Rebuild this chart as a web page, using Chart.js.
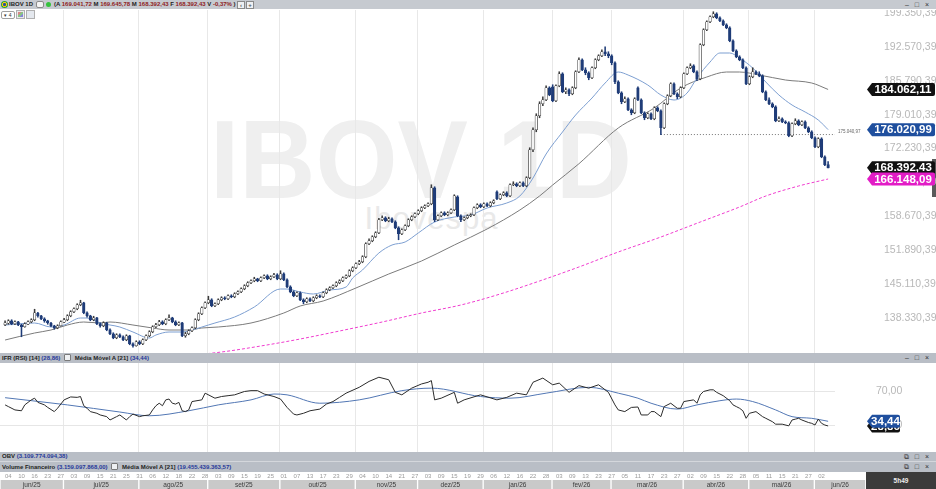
<!DOCTYPE html>
<html lang="pt-BR"><head><meta charset="utf-8"><title>IBOV 1D</title>
<script src="https://cdn.jsdelivr.net/npm/chart.js@4.4.1/dist/chart.umd.min.js"></script>
<style>
html,body{margin:0;padding:0;}
body{width:936px;height:489px;position:relative;overflow:hidden;background:#fff;font-family:"Liberation Sans",Arial,sans-serif;}
.hbar{position:absolute;left:0;width:936px;height:10px;background:#b9bec6;font-size:6px;font-weight:bold;color:#1e1e1e;line-height:10px;white-space:nowrap;}
.hbar .t{position:absolute;left:2px;top:0;}
.v{color:#26399a;}
.r{color:#8e1c1c;}
.ctl{position:absolute;right:5px;top:0;font-size:7px;font-weight:normal;color:#333;letter-spacing:2px;}
.ico{display:inline-block;width:5px;height:5px;border:1px solid #7a7a7a;background:#eef0f2;vertical-align:-1px;margin:0 2px;border-radius:1px;}
canvas{position:absolute;left:0;}
.wm1{position:absolute;left:0;width:842px;top:105px;text-align:center;font-weight:bold;font-size:111px;line-height:111px;color:#efefef;transform:scaleX(0.95);white-space:nowrap;}
.wm2{position:absolute;left:0;width:863px;top:203px;text-align:center;font-size:31px;line-height:31px;letter-spacing:1px;color:#e9e9e9;white-space:nowrap;}
</style></head><body>

<div class="wm1">IBOV 1D</div>
<div class="wm2">Ibovespa</div>
<div style="position:absolute;left:932px;top:159px;width:4px;height:38px;background:#5a5a5a;"></div>

<!-- top header -->
<div class="hbar" style="top:0;height:9px;line-height:9px;background:#c6cad0;">
  <span style="position:absolute;left:1px;top:1px;width:7px;height:7px;border-radius:50%;background:radial-gradient(circle,#2a4fa0 0 28%,#f2cf00 30% 52%,#2a9d3a 55%);"></span>
  <span style="position:absolute;left:9px;">IBOV 1D</span>
  <span style="position:absolute;left:36px;top:1px;width:6px;height:5px;border:1px solid #8a8a8a;border-radius:2px;background:#f4f4f4;"></span>
  <span style="position:absolute;left:46px;top:2px;width:5px;height:5px;border-radius:50%;background:#35c23d;"></span>
  <span style="position:absolute;left:54px;">(A <span class="r">169.041,72</span> M <span class="r">169.645,78</span> M <span class="r">168.392,43</span> F <span class="r">168.392,43</span> V <span class="r">-0,37%</span> )</span>
  <span style="position:absolute;left:237px;top:1px;width:6px;height:6px;border:1px solid #8a8a8a;background:#eef0f2;font-size:6px;line-height:6px;text-align:center;color:#555;">&#8249;</span>
  <span style="position:absolute;left:246px;top:1px;width:6px;height:6px;border:1px solid #8a8a8a;background:#eef0f2;font-size:6px;line-height:6px;text-align:center;color:#555;">+</span>
  <span class="ctl">&#8211; &#9633; &#215;</span>
</div>
<div style="position:absolute;left:1px;top:11px;width:12px;height:6px;border:1px solid #a0a0a0;border-radius:2px;font-size:5px;line-height:6px;text-align:center;color:#333;background:#fff;">&#9662; 4</div>
<div style="position:absolute;left:16px;top:10px;width:7px;height:7px;border:1px solid #b0b0b0;background:#eaeaea;"><div style="margin:1px;width:5px;height:5px;background:linear-gradient(135deg,#c44 0 40%,#4a4 40% 70%,#44c 70%);opacity:.6"></div></div>
<div style="position:absolute;left:26px;top:10px;width:7px;height:7px;border:1px solid #b0b0b0;background:#e4e8ee;"></div>

<canvas id="main" width="936" height="343" style="top:10px;"></canvas>

<div class="hbar" style="top:353px;">
  <span class="t">IFR (RSI) [14] <span class="v">(28,86)</span> <span class="ico"></span> Média Móvel A [21] <span class="v">(34,44)</span></span>
  <span class="ctl">&#8211; &#9633; &#215;</span>
</div>

<canvas id="rsi" width="936" height="89" style="top:363px;"></canvas>

<div class="hbar" style="top:452px;border-bottom:1px solid #d4d7dc;height:9px;line-height:9px;">
  <span class="t">OBV <span class="v">(3.109.774.094,38)</span></span>
  <span class="ctl">&#10697; &#9633; &#215;</span>
</div>
<div class="hbar" style="top:462px;">
  <span class="t">Volume Financeiro <span class="v">(3.159.097.868,00)</span> <span class="ico"></span> Média Móvel A [21] <span class="v">(19.455.439.363,57)</span></span>
  <span class="ctl">&#10697; &#9633; &#215;</span>
</div>

<canvas id="axis" width="866" height="17" style="top:472px;"></canvas>
<div style="position:absolute;left:866px;top:472px;width:70px;height:17px;background:#3b3b3b;color:#eee;font-size:6.5px;line-height:17px;text-align:center;font-weight:bold;">5h49</div>

<script>
// ---------------- DATA ----------------
// daily candles (values in thousands of points), 02/jun/2025 .. 03/jun/2026
const opens = [
137.0,137.3,137.8,137.2,137.6,137.0,136.6,137.1,137.6,138.0,139.3,138.8,138.2,137.8,137.3,136.8,136.4,136.8,137.5,138.0,
138.8,139.6,140.2,141.0,141.4,139.4,138.8,138.0,138.4,137.2,136.8,137.4,136.0,135.2,134.4,135.0,134.6,134.0,134.8,133.2,132.8,133.6,133.2,
134.0,134.8,135.6,136.6,137.0,137.6,137.2,138.0,138.4,137.6,137.0,137.4,134.8,135.2,135.8,136.4,138.0,139.2,140.4,141.4,142.0,
140.8,141.2,142.0,142.4,142.2,142.8,142.6,143.2,143.6,144.2,144.8,145.4,145.8,146.2,145.8,146.4,146.8,146.2,146.6,147.0,146.2,147.2,
146.0,144.6,143.6,142.8,143.4,142.0,141.6,142.2,141.8,142.4,142.8,142.6,143.4,144.0,144.4,144.8,145.4,145.8,146.4,146.8,147.8,148.4,149.2,
149.6,150.6,153.2,153.8,154.6,155.4,158.0,158.4,157.8,158.2,157.6,156.4,155.2,156.0,156.8,158.0,158.6,159.2,159.8,
160.4,160.8,161.2,164.4,158.0,158.8,159.4,159.0,159.4,160.0,162.6,158.8,158.0,158.4,158.8,159.0,160.4,161.0,160.6,161.2,
160.8,161.4,163.6,162.2,163.0,163.4,162.8,165.0,165.2,164.8,165.4,164.8,166.4,172.0,176.0,178.8,181.2,182.0,184.4,184.6,181.8,
184.8,187.2,183.6,184.0,183.2,184.4,187.6,190.0,188.0,187.4,186.4,188.4,190.0,190.8,191.6,191.2,190.8,189.4,
185.6,183.4,181.6,182.2,180.0,179.4,184.4,182.0,179.4,178.4,179.2,178.2,180.4,179.8,176.4,181.2,182.8,185.2,183.2,182.6,184.4,187.2,
188.4,188.8,187.6,186.2,193.0,196.0,197.6,198.6,199.2,198.4,197.8,197.0,196.4,193.8,191.8,190.6,190.0,188.4,185.2,186.6,
187.6,187.2,186.8,183.6,182.0,181.2,180.6,177.8,178.2,177.6,177.4,174.8,177.2,177.8,177.0,177.6,176.4,175.6,174.4,172.6,
174.2,170.6,169.04];
const highs = [
137.8,138.0,138.0,137.8,137.7,137.1,137.4,137.8,138.2,140.1,139.5,138.9,138.4,137.9,137.5,136.9,137.0,137.8,138.3,139.0,
139.8,140.4,141.2,141.9,141.5,139.6,138.9,138.7,138.5,137.4,137.6,137.5,136.2,135.4,135.2,135.2,134.8,135.0,134.9,133.4,133.8,133.8,134.2,
135.0,135.8,136.8,137.3,137.9,137.8,138.2,139.0,138.5,137.8,137.6,137.5,135.5,136.0,136.6,138.2,139.4,140.6,141.6,142.7,142.2,
141.4,142.2,142.6,142.6,143.0,143.0,143.4,143.8,144.4,145.0,145.6,146.0,146.5,146.3,146.6,147.0,147.0,146.8,147.3,147.2,147.8,147.4,
146.2,144.8,143.8,143.6,143.6,142.2,142.4,142.4,142.6,143.0,143.0,143.6,144.2,144.6,145.0,145.6,146.0,146.6,147.0,148.0,148.6,149.4,149.9,
150.8,153.4,154.2,154.8,155.6,158.3,158.8,158.6,158.5,158.4,157.8,156.6,156.2,157.0,158.2,158.8,159.4,160.0,160.6,
161.0,161.4,165.0,164.6,159.0,159.6,159.6,159.6,160.2,163.0,162.8,159.0,158.6,159.0,159.2,160.6,161.2,161.2,161.4,161.4,
161.6,162.0,163.8,163.2,163.6,163.6,165.2,165.6,165.4,165.6,165.6,166.6,172.4,176.4,179.2,181.6,182.6,184.8,184.6,185.0,185.0,
187.6,187.4,184.4,184.2,184.6,187.8,190.4,190.2,188.4,187.6,188.6,190.2,191.0,192.0,192.6,191.6,191.0,189.6,
185.8,183.6,182.6,182.4,180.2,182.4,184.6,182.2,179.6,179.4,179.4,180.6,180.6,180.0,181.4,183.0,185.4,185.4,183.4,184.6,187.4,188.6,
189.2,189.0,187.8,193.2,196.2,197.8,198.8,199.6,199.4,198.6,198.0,197.2,196.6,194.0,192.0,190.8,190.2,188.6,186.8,188.4,
187.8,187.6,187.0,183.8,182.4,181.4,180.8,178.6,178.4,177.8,177.6,177.4,178.2,178.0,177.8,177.8,176.6,175.8,174.6,174.4,
174.4,170.8,169.65];
const lows = [
136.8,137.1,137.0,137.0,136.8,134.6,136.5,137.0,137.4,137.8,138.5,138.0,137.5,137.1,136.6,136.1,136.2,136.7,137.4,137.8,
138.6,139.4,140.0,140.8,139.2,138.5,137.8,137.8,137.0,136.5,136.6,135.8,135.0,134.2,134.2,134.4,133.8,133.8,133.0,132.5,132.7,133.0,133.0,
133.8,134.6,135.4,136.4,136.8,137.0,137.0,137.8,137.4,136.8,136.8,134.6,134.5,135.0,135.6,136.2,137.8,139.0,140.2,141.2,140.6,
140.6,141.0,141.8,142.0,142.0,142.4,142.4,143.0,143.4,144.0,144.6,145.2,145.6,145.6,145.6,146.2,146.0,146.0,146.4,146.0,146.0,145.8,
144.4,143.4,142.6,142.6,141.8,141.2,141.4,141.6,141.6,142.2,142.4,142.4,143.2,143.8,144.2,144.6,145.2,145.6,146.2,146.6,147.6,148.2,149.0,
149.4,150.4,153.0,153.6,154.4,155.2,157.8,157.6,157.6,157.4,156.2,154.0,155.0,155.8,156.6,157.8,158.4,159.0,159.6,
160.2,160.6,161.0,157.6,157.8,158.6,158.8,158.8,159.2,159.8,158.6,157.6,157.8,158.2,158.6,158.8,160.2,160.4,160.4,160.6,
160.6,161.2,162.0,162.0,162.8,162.6,162.6,164.8,164.6,164.6,164.6,164.6,166.2,171.6,175.6,178.4,180.8,181.8,182.8,181.6,181.6,
184.6,183.4,183.2,182.8,183.0,184.2,187.4,187.8,187.0,186.0,186.2,188.2,189.8,190.6,190.8,190.4,189.0,185.2,
183.2,181.2,181.4,179.8,179.0,179.2,181.8,179.2,178.0,178.2,178.0,178.0,179.6,175.04,176.2,181.0,182.6,183.0,182.2,182.4,184.2,187.0,
188.2,187.4,185.8,186.0,192.8,195.8,197.4,198.4,198.2,197.6,196.8,196.2,193.6,191.6,190.4,189.8,188.2,185.0,185.0,186.4,
187.0,186.6,183.4,181.8,181.0,180.4,177.6,177.6,177.4,177.2,174.6,174.6,177.0,176.8,176.8,176.2,175.4,174.2,172.4,172.4,
170.4,168.8,168.39];
const closes = [
137.4,137.8,137.2,137.6,137.0,136.6,137.2,137.6,138.0,139.4,138.8,138.2,137.8,137.4,136.8,136.4,136.8,137.6,138.0,138.8,
139.6,140.2,141.0,141.4,139.4,138.8,138.0,138.4,137.2,136.8,137.4,136.0,135.2,134.4,135.0,134.6,134.0,134.8,133.2,132.8,133.6,133.2,134.0,
134.8,135.6,136.6,137.0,137.6,137.2,138.0,138.4,137.6,137.0,137.4,134.8,135.2,135.8,136.4,138.0,139.2,140.4,141.4,142.0,140.8,
141.2,142.0,142.4,142.2,142.8,142.6,143.2,143.6,144.2,144.8,145.4,145.8,146.2,145.8,146.4,146.8,146.2,146.6,147.0,146.2,147.2,146.0,
144.6,143.6,142.8,143.4,142.0,141.6,142.2,141.8,142.4,142.8,142.6,143.4,144.0,144.4,144.8,145.4,145.8,146.4,146.8,147.8,148.4,149.2,149.6,
150.6,153.2,153.8,154.6,155.4,158.0,158.4,157.8,158.2,157.6,156.4,155.2,156.0,156.8,158.0,158.6,159.2,159.8,160.4,
160.8,161.2,164.4,158.0,158.8,159.4,159.0,159.4,160.0,162.8,158.8,158.0,158.4,158.8,159.0,160.4,161.0,160.6,161.2,160.8,
161.4,161.8,162.2,163.0,163.4,162.8,165.0,165.2,164.8,165.4,164.8,166.4,172.0,176.0,178.8,181.2,182.0,184.4,183.0,181.8,184.8,
187.2,183.6,184.0,183.2,184.4,187.6,190.0,188.0,187.4,186.4,188.4,190.0,190.8,191.6,191.2,190.8,189.4,185.6,
183.4,181.6,182.2,180.0,179.4,182.2,182.0,179.4,178.4,179.2,178.2,180.4,179.8,176.4,181.2,182.8,185.2,183.2,182.6,184.4,187.2,188.4,
188.8,187.6,186.2,193.0,196.0,197.6,198.6,199.2,198.4,197.8,197.0,196.4,193.8,191.8,190.6,190.0,188.4,185.2,186.6,187.6,
187.2,186.8,183.6,182.0,181.2,180.6,177.8,178.2,177.6,177.4,174.8,177.2,177.8,177.0,177.6,176.4,175.6,174.4,172.6,174.2,
170.6,169.02,168.39];

// moving averages (candle index, value in thousands)
const maFastIdx = [0,9,14,18,23,25,29,35,39,44,46,50,54,58,62,64,70,76,84,86,90,94,99,104,106,109,114,118,122,126,131,137,142,147,153,157,161,165,170,174,179,183,187,190,196,200,204,208,211,215,218,221,224,228,232,236,240,244,248,251];
const maFastVal = [136.95,137.35,136.55,136.95,138.35,138.35,137.35,136.55,135.55,134.35,134.95,135.55,135.55,136.15,136.95,137.35,138.55,140.55,144.15,144.15,143.55,143.15,143.95,144.55,146.35,147.95,151.35,152.95,153.55,155.35,157.55,158.55,158.95,160.35,161.35,162.75,166.35,171.15,175.55,178.95,182.35,185.35,187.55,186.95,184.95,182.95,181.95,183.35,186.35,189.55,191.35,191.35,190.35,188.35,185.55,182.95,180.95,179.55,177.95,176.02];
const maSlowIdx = [0,9,14,19,24,29,32,39,45,50,56,60,65,75,85,90,97,107,117,127,137,147,157,163,167,175,187,198,206,214,220,224,230,238,246,251];
const maSlowVal = [133.95,135.35,135.95,136.95,137.55,137.35,137.55,136.95,136.35,135.95,135.95,136.35,136.55,137.35,139.35,140.75,141.75,144.35,147.15,149.75,152.95,156.15,159.95,162.75,164.95,169.2,176.35,180.35,184.35,186.55,187.55,187.55,186.95,185.95,185.35,184.06];
const maLongIdx = [48,66,78,90,102,115,127,139,151,163,175,187,200,212,224,232,242,251];
const maLongVal = [130.35,131.55,132.75,134.15,135.75,137.55,139.35,140.95,143.15,145.75,148.55,151.55,154.55,157.55,160.55,162.75,164.75,166.15];

// price axis ticks (thousands) and tags (points)
const yTicks = [138.33039,145.11039,151.89039,158.67039,165.45039,172.23039,179.01039,185.79039,192.57039,199.35039];
const tagValues = [184062.11,176020.99,168392.43,166148.09];
const tagColors = ['#111111','#1f4f9e','#111111','#e21cc6'];
const levelStartIdx = 200;
const levelValue = 175040.97;

// RSI (14) and its 21 average
const rsiIdx = [0,1,3,5,6,8,9,10,12,13,15,16,18,20,22,23,24,25,26,28,29,31,32,34,35,37,38,39,41,42,44,45,46,47,48,49,50,51,52,53,54,55,56,57,60,61,64,66,68,70,73,75,77,79,82,84,86,88,89,91,93,96,98,100,102,104,108,111,114,117,119,121,124,127,129,130,131,133,137,138,140,145,150,153,156,159,161,164,167,169,172,175,178,181,184,186,187,189,191,193,194,196,197,198,200,201,203,205,206,207,210,211,212,213,215,216,217,219,221,222,223,224,225,226,227,229,231,232,234,235,237,239,240,241,242,243,245,246,247,248,249,250,251];
const rsiVal = [54,52,48,47,54,60,62,57,54,51,46,50,60,63.5,63,64,53,50,46,44,42,40,36,40,42,36,40,43,40,41,42,48,53,56,53,60,61,56,55,57,47,46,48,58,60,68,62,64,65,66,70,71,71,67,64,61,51,43,42,44,47,49,55,58,63,68,75,82,87,84,69,66,74,79,81,83,60,62,69,56,60,66,60,63,68,66,81,86,78,80,69,77,74,78,69,54,48,46,51,51.5,42,42,46,46,40,52,56,50,50,58,60,56,66,70,72,72,69,65,59,54,52,50,47,38,44,46,40,38,34,31,31,29,36,37,38,36,33,32,30,37,32,30,28.86];
const rsiMaIdx = [0,19,35,44,56,65,75,82,86,96,108,121,130,145,154,165,178,187,193,197,205,211,218,223,228,235,240,246,251];
const rsiMaVal = [62.6,54,45.5,41,47,54,60,67,66,56,60,71,74,64,62,68,75,68,62,56,49,54,59,61,58,48,40,38,34.44];
const rsiTicks = [30,70];
const rsiTagValues = [28.86,34.44];
const rsiTagColors = ['#111111','#1f4f9e'];

// time axis
const monthNames = ['jun/25','jul/25','ago/25','set/25','out/25','nov/25','dez/25','jan/26','fev/26','mar/26','abr/26','mai/26','jun/26'];
const monthStart = [0,20,43,64,86,109,128,148,169,187,209,229,249];
const dayTickIdx = [2,6,10,14,18,22,26,30,34,38,42,46,50,54,58,62,66,70,74,78,82,86,90,94,98,102,106,110,114,118,122,126,130,134,138,142,146,150,154,158,162,166,170,174,178,182,186,190,194,198,202,206,210,214,218,222,226,230,234,238,242,246,250];
const dayLabels = ['04','10','16','23','27','03','09','15','21','25','31','06','12','18','22','28','03','09','15','19','25','01','07','13','17','23','29','04','10','14','21','27','03','09','15','19','29','06','12','16','22','28','03','09','13','23','27','05','11','17','23','27','02','09','15','22','28','05','11','15','21','27','02'];

// ---------------- LAYOUT CONSTANTS ----------------
const X_MIN = -1.55, X_MAX = 253.1, X_AXIS_END = 262.5;
const GRID_SHIFT = -2.2, LABEL_SHIFT = -1.0;

Chart.defaults.font.family = '"Liberation Sans", Arial, sans-serif';

function fmtBR(v, dec) {
  let s = Math.abs(v).toFixed(dec);
  let [a, b] = s.split('.');
  a = a.replace(/\B(?=(\d{3})+(?!\d))/g, '.');
  return (v < 0 ? '-' : '') + a + (b ? ',' + b : '');
}
function drawTag(ctx, x0, x1, yc, h, color, text) {
  const r = 2, t = yc - h / 2, b = yc + h / 2;
  ctx.save();
  ctx.fillStyle = color;
  ctx.beginPath();
  ctx.moveTo(x0, yc);
  ctx.lineTo(x0 + 5, t);
  ctx.lineTo(x1 - r, t);
  ctx.quadraticCurveTo(x1, t, x1, t + r);
  ctx.lineTo(x1, b - r);
  ctx.quadraticCurveTo(x1, b, x1 - r, b);
  ctx.lineTo(x0 + 5, b);
  ctx.closePath();
  ctx.fill();
  ctx.fillStyle = '#ffffff';
  ctx.font = 'bold 11.5px "Liberation Sans", Arial, sans-serif';
  ctx.textAlign = 'center';
  ctx.textBaseline = 'middle';
  ctx.fillText(text, (x0 + 4 + x1) / 2, yc + 0.5);
  ctx.restore();
}

const gridIdx = monthStart.slice(1).map(v => v + GRID_SHIFT);
function xScale() {
  return {
    type: 'linear', min: X_MIN, max: X_MAX, offset: false,
    grid: { color: '#e8e8e8', lineWidth: 1, drawTicks: false, offset: false },
    border: { display: false },
    ticks: { display: false },
    afterBuildTicks: s => { s.ticks = gridIdx.map(v => ({ value: v })); },
    afterFit: s => { s.height = 0; s.paddingLeft = 0; s.paddingRight = 0; }
  };
}
function pts(ix, vals) { return ix.map((x, k) => ({ x: x, y: vals[k] })); }

// ---------------- MAIN PRICE CHART ----------------
const idx = closes.map((c, i) => i);
const isUp = i => closes[i] >= opens[i];
const UP_FILL = '#ffffff', UP_LINE = '#3c3c3c', DOWN = '#1f3c78';

const mainTags = {
  id: 'mainTags',
  afterDraw(chart) {
    const ys = chart.scales.y, ctx = chart.ctx;
    const ly = ys.getPixelForValue(levelValue / 1000);
    ctx.save();
    ctx.font = '4.5px "Liberation Sans", Arial, sans-serif';
    ctx.fillStyle = '#666';
    ctx.textBaseline = 'middle';
    ctx.fillText(fmtBR(levelValue, 2), 838, ly - 3);
    ctx.restore();
    tagValues.forEach((v, k) => drawTag(ctx, 867, 935, ys.getPixelForValue(v / 1000), 13, tagColors[k], fmtBR(v, 2)));
  }
};

new Chart(document.getElementById('main'), {
  type: 'bar',
  data: {
    datasets: [
      { type: 'bar', data: idx.map(i => ({ x: i, y: [opens[i], closes[i]] })),
        backgroundColor: c => isUp(c.dataIndex) ? UP_FILL : DOWN,
        borderColor: c => isUp(c.dataIndex) ? UP_LINE : DOWN,
        borderWidth: 0.7, borderSkipped: false, barThickness: 2.6, grouped: false, order: 1 },
      { type: 'bar', data: idx.map(i => ({ x: i, y: [lows[i], highs[i]] })),
        backgroundColor: c => isUp(c.dataIndex) ? UP_LINE : DOWN,
        borderWidth: 0, barThickness: 0.9, grouped: false, order: 2 },
      { type: 'line', data: pts(maFastIdx, maFastVal), borderColor: '#7d9fd1', borderWidth: 1,
        pointRadius: 0, cubicInterpolationMode: 'monotone', order: 3 },
      { type: 'line', data: pts(maSlowIdx, maSlowVal), borderColor: '#7b7b7b', borderWidth: 1,
        pointRadius: 0, cubicInterpolationMode: 'monotone', order: 4 },
      { type: 'line', data: pts(maLongIdx, maLongVal), borderColor: '#f03ccf', borderWidth: 1,
        borderDash: [3, 2], pointRadius: 0, cubicInterpolationMode: 'monotone', order: 5 },
      { type: 'line', data: [{ x: levelStartIdx, y: levelValue / 1000 }, { x: X_MAX, y: levelValue / 1000 }],
        borderColor: '#777', borderWidth: 1, borderDash: [1, 2], pointRadius: 0, order: 6 }
    ]
  },
  options: {
    responsive: false, animation: false, events: [],
    layout: { padding: 0 },
    plugins: { legend: { display: false }, tooltip: { enabled: false } },
    scales: {
      x: xScale(),
      y: {
        type: 'linear', position: 'right', min: 131.35, max: 199.95,
        grid: { display: false }, border: { display: false },
        afterBuildTicks: s => { s.ticks = yTicks.map(v => ({ value: v })); },
        ticks: { autoSkip: false, padding: 41, crossAlign: 'near', color: '#b8b8b8',
          font: { size: 10.5 }, callback: v => fmtBR(v * 1000, 2) },
        afterFit: s => { s.width = 101; s.paddingTop = 0; s.paddingBottom = 0; }
      }
    }
  },
  plugins: [mainTags]
});

// ---------------- RSI CHART ----------------
const rsiTags = {
  id: 'rsiTags',
  afterDraw(chart) {
    const ys = chart.scales.y, ctx = chart.ctx;
    rsiTagValues.forEach((v, k) => drawTag(ctx, 867, 900, ys.getPixelForValue(v), 13, rsiTagColors[k], fmtBR(v, 2)));
  }
};
new Chart(document.getElementById('rsi'), {
  type: 'line',
  data: {
    datasets: [
      { data: pts(rsiIdx, rsiVal), borderColor: '#2b2b2b', borderWidth: 1, pointRadius: 0, tension: 0, order: 1 },
      { data: pts(rsiMaIdx, rsiMaVal), borderColor: '#5277b4', borderWidth: 1, pointRadius: 0,
        cubicInterpolationMode: 'monotone', order: 2 }
    ]
  },
  options: {
    responsive: false, animation: false, events: [],
    layout: { padding: 0 },
    plugins: { legend: { display: false }, tooltip: { enabled: false } },
    scales: {
      x: xScale(),
      y: {
        type: 'linear', position: 'right', min: -2.2, max: 104,
        grid: { color: '#e6e6e6', drawTicks: false }, border: { display: false },
        afterBuildTicks: s => { s.ticks = rsiTicks.map(v => ({ value: v })); },
        ticks: { autoSkip: false, padding: 41, crossAlign: 'near', color: '#b8b8b8',
          font: { size: 10.5 }, callback: v => fmtBR(v, 2) },
        afterFit: s => { s.width = 101; s.paddingTop = 0; s.paddingBottom = 0; }
      }
    }
  },
  plugins: [rsiTags]
});

// ---------------- TIME AXIS ----------------
const axisText = {
  id: 'axisText',
  afterDatasetsDraw(chart) {
    const ctx = chart.ctx, meta = chart.getDatasetMeta(0), xs = chart.scales.x;
    ctx.save();
    ctx.textAlign = 'center';
    ctx.textBaseline = 'middle';
    // day ticks row
    ctx.font = '6px "Liberation Sans", Arial, sans-serif';
    ctx.fillStyle = '#9a9a9a';
    dayTickIdx.forEach((d, k) => ctx.fillText(dayLabels[k], xs.getPixelForValue(d + LABEL_SHIFT), 4.5));
    // month row
    ctx.font = '6.5px "Liberation Sans", Arial, sans-serif';
    ctx.fillStyle = '#3a3a3a';
    meta.data.forEach((bar, k) => {
      const p = bar.getProps(['x', 'base', 'y'], true);
      ctx.fillText(monthNames[k], (p.x + p.base) / 2, p.y + 0.5);
    });
    ctx.restore();
  }
};
new Chart(document.getElementById('axis'), {
  type: 'bar',
  data: {
    datasets: [{
      data: monthNames.map((m, k) => ({
        y: 0,
        x: [k === 0 ? X_MIN : monthStart[k] + GRID_SHIFT,
            k === monthNames.length - 1 ? X_AXIS_END : monthStart[k + 1] + GRID_SHIFT]
      })),
      backgroundColor: '#c9c9c9', borderColor: '#ffffff',
      borderWidth: { left: 1, right: 1, top: 0, bottom: 0 }, borderSkipped: false,
      barThickness: 9, grouped: false, clip: false
    }]
  },
  options: {
    indexAxis: 'y', responsive: false, animation: false, events: [],
    layout: { padding: { left: 0, right: 31, top: 8, bottom: 0 } },
    plugins: { legend: { display: false }, tooltip: { enabled: false } },
    scales: {
      x: {
        type: 'linear', min: X_MIN, max: X_MAX, offset: false, display: false
      },
      y: { type: 'linear', min: -0.5, max: 0.5, display: false }
    }
  },
  plugins: [axisText]
});
</script>
</body></html>
